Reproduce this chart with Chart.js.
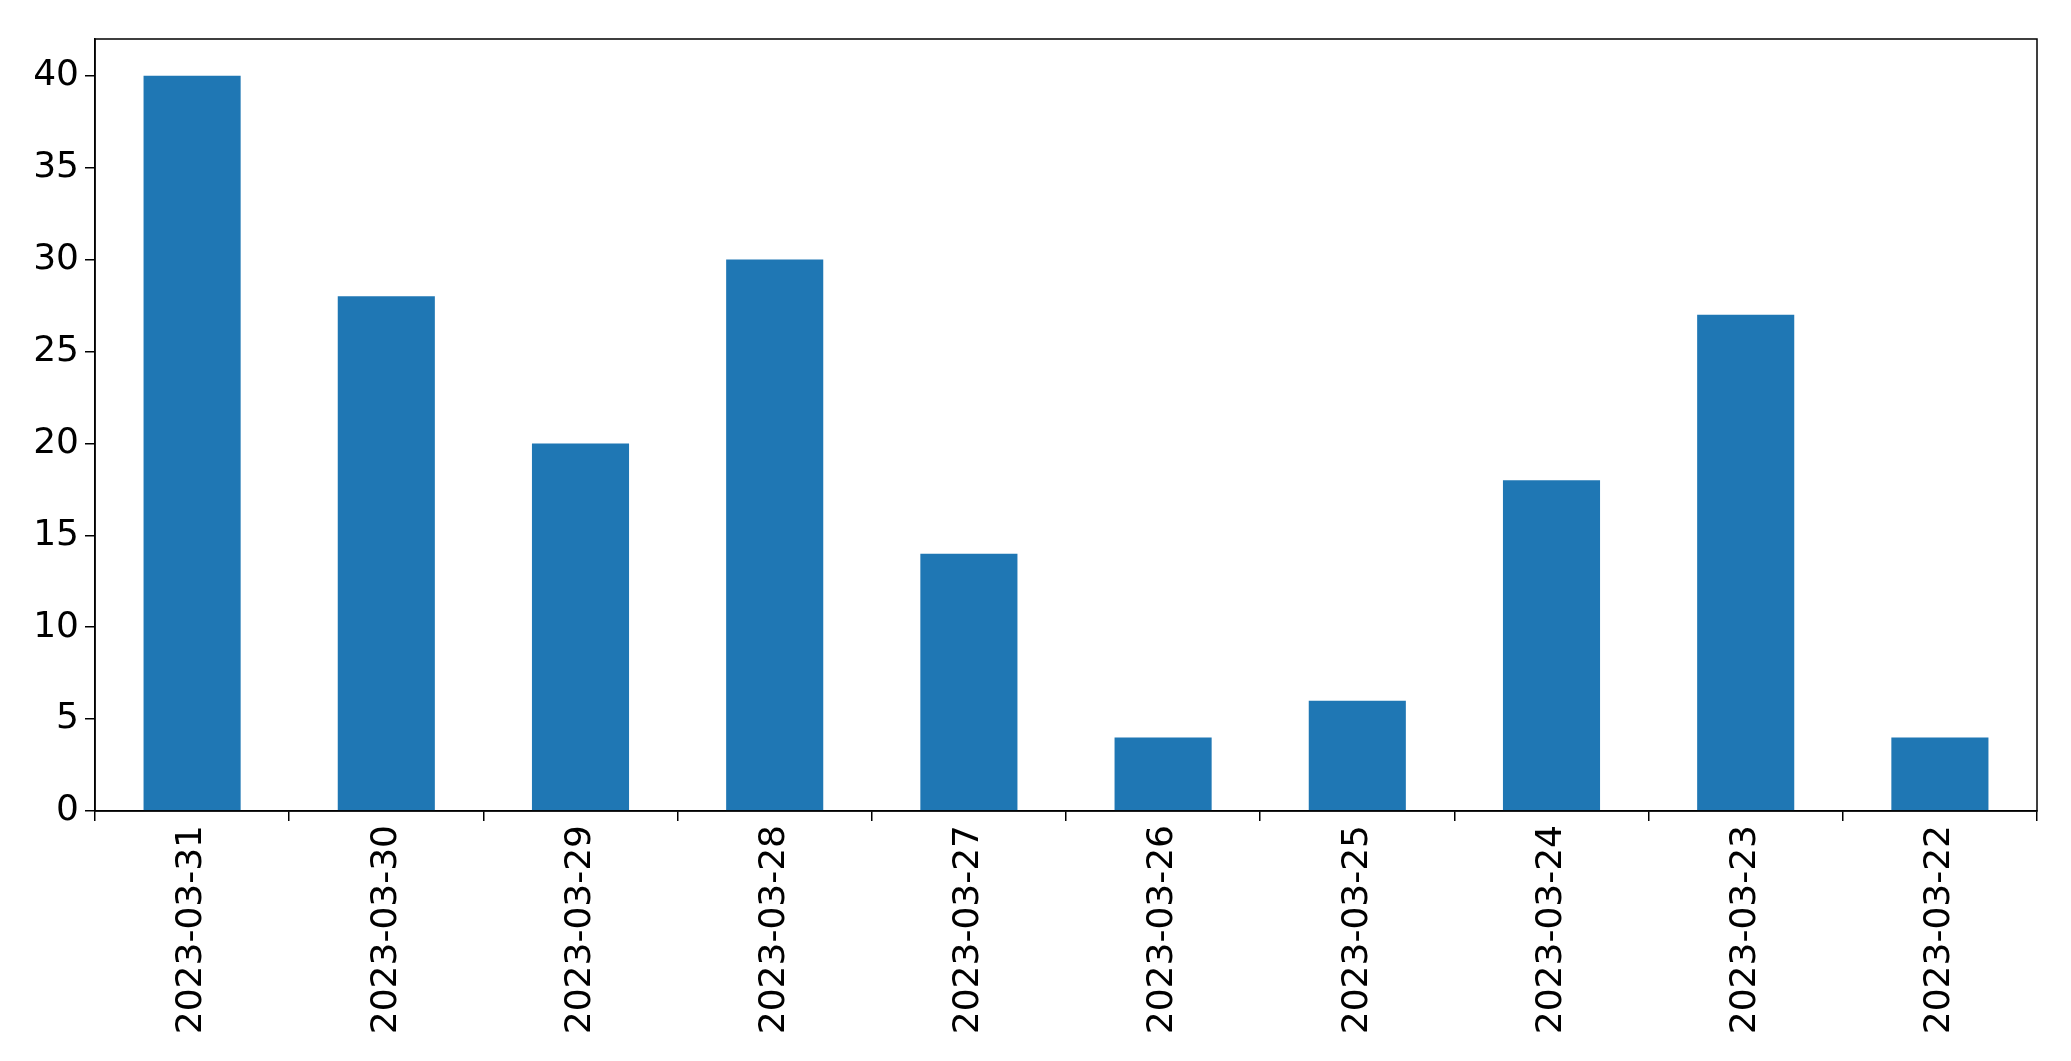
<!DOCTYPE html>
<html><head><script src="https://cdn.jsdelivr.net/npm/chart.js@4"></script>
<style>html,body{margin:0;padding:0;background:#fff}#w{width:2071px;height:1061px}</style></head>
<body><div id="w"><canvas id="c"></canvas></div>
<script>
const categories = ["2023-03-31","2023-03-30","2023-03-29","2023-03-28","2023-03-27","2023-03-26","2023-03-25","2023-03-24","2023-03-23","2023-03-22"];
const values = [40,28,20,30,14,4,6,18,27,4];
const yTicks = [0,5,10,15,20,25,30,35,40];
const frame = {id:'frame',afterDraw(ch){const a=ch.chartArea,c=ch.ctx;c.save();c.strokeStyle='#000';c.lineWidth=1.5;c.strokeRect(a.left,a.top,a.right-a.left,a.bottom-a.top);c.restore();}};
new Chart(document.getElementById('c'),{
 type:'bar',
 data:{labels:categories,datasets:[{data:values,backgroundColor:'#1f77b4',categoryPercentage:1,barPercentage:0.5}]},
 options:{responsive:true,maintainAspectRatio:false,animation:false,
  layout:{padding:{top:39,right:34,left:0,bottom:0}},
  plugins:{legend:{display:false},tooltip:{enabled:false}},
  scales:{
   x:{grid:{display:true,drawOnChartArea:false,tickLength:10,color:'#000',lineWidth:1.5},border:{color:'#000',width:1.5},
      ticks:{color:'#000',font:{family:'DejaVu Sans',size:36},maxRotation:90,minRotation:90,padding:4},
      afterFit(s){s.height=250;}},
   y:{min:0,max:42,grid:{display:true,drawOnChartArea:false,tickLength:10,color:'#000',lineWidth:1.5},border:{color:'#000',width:1.5},
      afterBuildTicks(s){s.ticks=yTicks.map(v=>({value:v}));},
      ticks:{color:'#000',font:{family:'DejaVu Sans',size:36},padding:6},
      afterFit(s){s.width=95;}}
  }},
 plugins:[frame]
});
</script></body></html>
